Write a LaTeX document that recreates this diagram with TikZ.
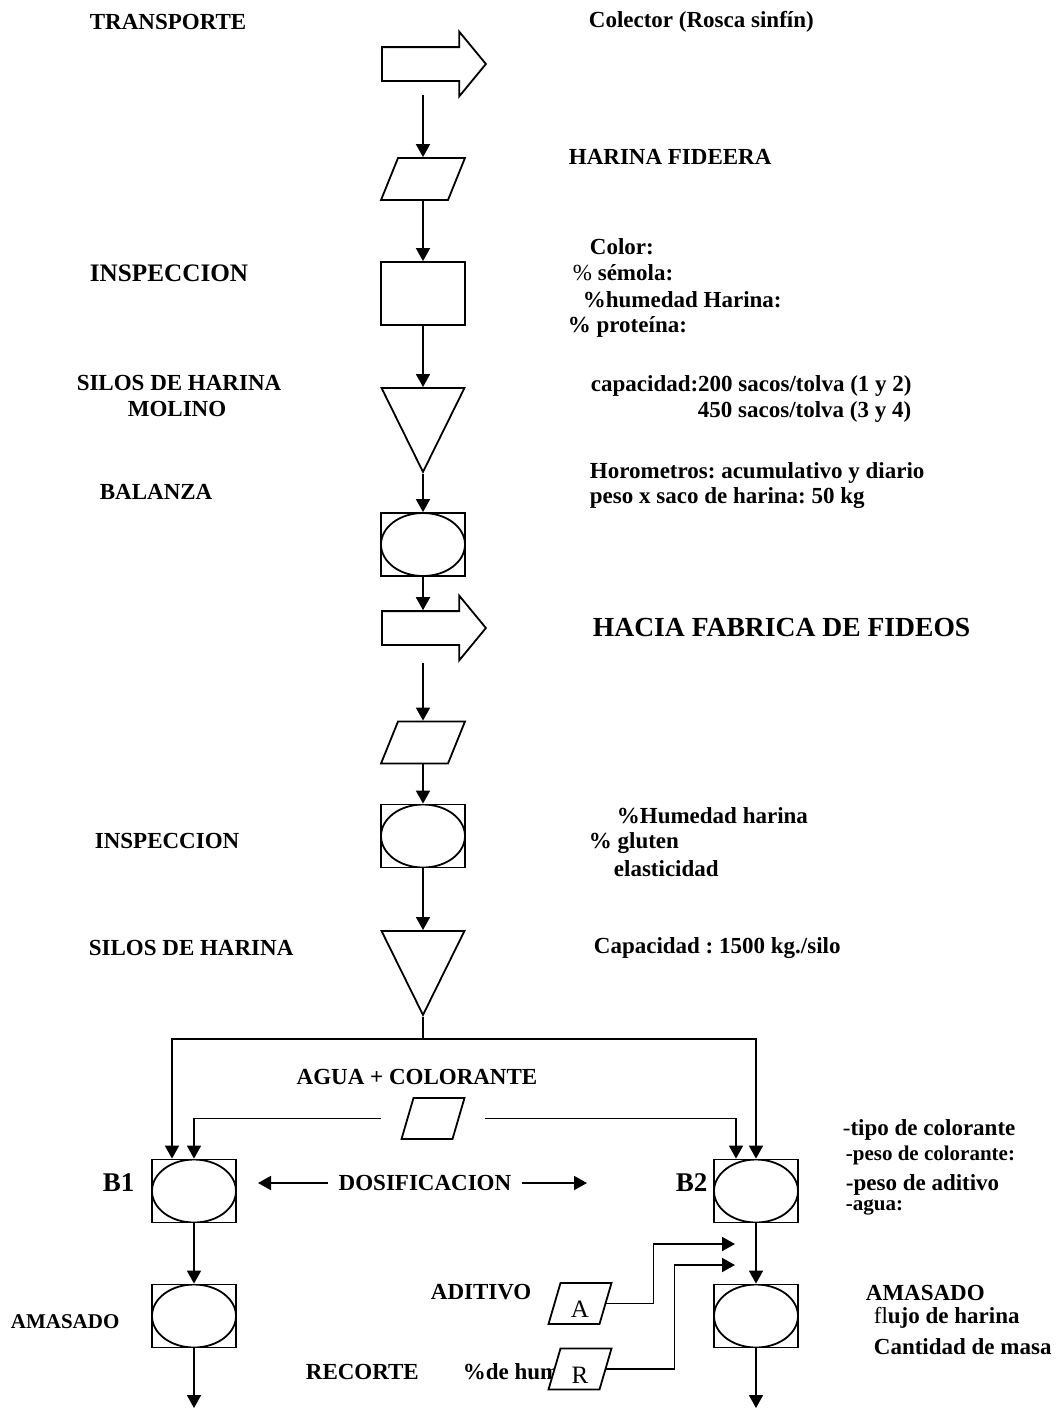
\documentclass[tikz,border=0pt]{standalone}
\usepackage{fontspec}
\setmainfont{Liberation Serif}
\frenchspacing
\usetikzlibrary{arrows.meta,shapes.geometric,shapes.arrows}
\begin{document}
\begin{tikzpicture}[x=0.5pt,y=-0.5pt,>={Triangle[length=6.5pt,width=7pt]},line width=0.9pt,
	font=\bfseries\fontsize{11.5}{13}\selectfont,
	txt/.style={anchor=west,inner sep=0pt},
	caja/.style={draw,rectangle,minimum width=42pt,minimum height=31.5pt,inner sep=0pt},
	ovalo/.style={caja,path picture={\draw (path picture bounding box.center) ellipse (21pt and 15.75pt);}},
	datos/.style={draw,fill=white,trapezium,trapezium left angle=68,trapezium right angle=112,inner xsep=12.5pt,inner ysep=10.5pt,text height=0pt,text depth=0pt},
	datoch/.style={datos,trapezium left angle=73.7,trapezium right angle=106.3,inner xsep=9.75pt,inner ysep=10.25pt,font=\mdseries\fontsize{12.5}{14}\selectfont},
	silo/.style={draw,isosceles triangle,isosceles triangle stretches,shape border rotate=270,minimum width=41.5pt,minimum height=42pt,inner sep=2pt,anchor=lower side},
	transp/.style={draw,single arrow,single arrow head extend=7.75pt,single arrow tip angle=101,single arrow head indent=0pt,minimum height=52pt,text height=0pt,text depth=0pt,inner xsep=0pt,inner ysep=8pt,anchor=tail}]
	\useasboundingbox (0,0) rectangle (1057,1410);
	\def\xc{423} \def\xa{194} \def\xb{756} % ejes
	
	% columna principal
	\node[transp] (tr1) at (381,64) {};
	\coordinate (t1) at (\xc,95);
	\node[datos] (hf) at (\xc,179) {};
	\node[caja] (insp1) at (\xc,293.5) {};
	\node[silo] (silo1) at (\xc,387) {};
	\node[ovalo] (bal) at (\xc,544.5) {};
	\node[transp] (tr2) at (381,628) {};
	\coordinate (t2) at (\xc,663);
	\node[datos] (p2) at (\xc,742.5) {};
	\node[ovalo] (insp2) at (\xc,836) {};
	\node[silo] (silo2) at (\xc,930) {};
	
	\draw[->] (t1) -- (hf);
	\draw[->] (hf) -- (insp1);
	\draw[->] (insp1) -- (silo1.lower side);
	\draw[->] (silo1.apex) -- (bal);
	\draw[->] (bal) -- (bal |- tr2.north);
	\draw[->] (t2) -- (p2);
	\draw[->] (p2) -- (insp2);
	\draw[->] (insp2) -- (silo2.lower side);
	
	% dosificacion
	\node[datoch] (agua) at (433,1118.5) {};
	\node[ovalo] (b1) at (\xa,1191) {};
	\node[ovalo] (b2) at (\xb,1191) {};
	\node[ovalo] (am1) at (\xa,1316) {};
	\node[ovalo] (am2) at (\xb,1316) {};
	\coordinate (f1) at (\xa,1408); \coordinate (f2) at (\xb,1408);
	\coordinate (dl) at (258,1183); \coordinate (dr) at (587,1183);
	\coordinate (ma) at (735,1244); \coordinate (mr) at (735,1265);
	
	\draw[->] (silo2.apex) -- ++(0,22) -| ([xshift=-11pt]b1.north);
	\draw[->] (silo2.apex) -- ++(0,22) -| (b2.north);
	\draw[->,shorten <=13pt] (agua.west) -| (b1.north);
	\draw[->,shorten <=13pt] (agua.east) -| ([xshift=-10pt]b2.north);
	\draw[->] (b1) -- (am1);
	\draw[->] (b2) -- (am2);
	\draw[->] (am1) -- (f1);
	\draw[->] (am2) -- (f2);
	
	\node[inner sep=5pt] (dos) at (425,1183) {DOSIFICACION};
	\draw[->] (dos.west) -- (dl);
	\draw[->] (dos.east) -- (dr);
	
	% textos
	\node[txt] (ltransp) at (89,22) {TRANSPORTE};
	\node[txt] (lcolector) at (588,22) {Colector (Rosca sinfín)};
	\node[txt] (lharina) at (568,157) {HARINA FIDEERA};
	\node[txt] (lcolor) at (589,247) {Color:};
	\node[txt] (lsemola) at (572,273) {\textmd{\%} sémola:};
	\node[txt] (lhum) at (582,300) {\%humedad Harina:};
	\node[txt] (lprot) at (567,327) {\% proteína:};
	\node[txt,font=\bfseries\fontsize{12.6}{14}\selectfont] (linsp1) at (89,273) {INSPECCION};
	\node[txt,anchor=center] (lsilos1) at (179,383) {SILOS DE HARINA};
	\node[txt,anchor=center] (lmolino) at (177,409) {MOLINO};
	\node[txt] (lcap1) at (590,386) {capacidad:200 sacos/tolva (1 y 2)};
	\node[txt] (lcap2) at (697,412) {450 sacos/tolva (3 y 4)};
	\node[txt] (lbal) at (99,492) {BALANZA};
	\node[txt] (lhoro) at (589,473) {Horometros: acumulativo y diario};
	\node[txt] (lpeso) at (589,498) {peso x saco de harina: 50 kg};
	\node[txt,font=\bfseries\fontsize{13.8}{16}\selectfont] (lhacia) at (592,627) {HACIA FABRICA DE FIDEOS};
	\node[txt] (lhum2) at (616,816) {\%Humedad harina};
	\node[txt] (lglut) at (588,843) {\% gluten};
	\node[txt] (lelas) at (613,869) {elasticidad};
	\node[txt] (linsp2) at (94,841) {INSPECCION};
	\node[txt] (lsilos2) at (88,948) {SILOS DE HARINA};
	\node[txt] (lcap3) at (593,948) {Capacidad : 1500 kg./silo};
	\node[txt,anchor=center] (lagua) at (417,1077) {AGUA + COLORANTE};
	\node[txt,font=\bfseries\fontsize{13.5}{15}\selectfont] (lb1) at (102,1183) {B1};
	\node[txt,font=\bfseries\fontsize{13.5}{15}\selectfont] (lb2) at (675,1183) {B2};
	\node[txt] (ltipo) at (842,1130) {\textmd{-}tipo de colorante};
	\node[txt,font=\bfseries\fontsize{10.5}{12}\selectfont] (lpcol) at (845,1155) {-peso de colorante:};
	\node[txt] (lpadit) at (845,1185) {-peso de aditivo};
	\node[txt,font=\bfseries\fontsize{10.5}{12}\selectfont] (lagua2) at (845,1207) {-agua:};
	\node[txt] (lamas2) at (865,1293) {AMASADO};
	\node[txt] (lflujo) at (873,1318) {\textmd{fl}ujo de harina};
	\node[txt] (lcant) at (873,1347) {Cantidad de masa};
	\node[txt] (ladit) at (430,1292) {ADITIVO};
	\node[txt,font=\bfseries\fontsize{10.5}{12}\selectfont] (lamas1) at (10,1322) {AMASADO};
	\node[txt] (lrec) at (305,1372) {RECORTE};
	\node[txt] (lhum3) at (462,1372) {\%de hum};
	
	% aditivo y recorte
	\node[datoch] (pa) at (580,1303.5) {\raisebox{-6.8pt}[0pt][0pt]{\makebox[0pt]{A}}};
	\node[datoch] (pr) at (580,1369) {\raisebox{-7pt}[0pt][0pt]{\makebox[0pt]{R}}};
	\draw[->] (pa.east) -- ++(47,0) |- (ma);
	\draw[->] (pr.east) -- ++(68,0) |- (mr);
\end{tikzpicture}
\end{document}
